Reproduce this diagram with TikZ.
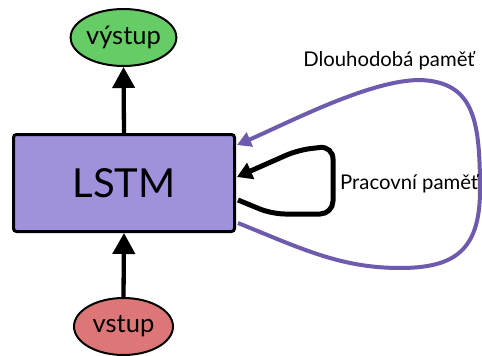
\documentclass[tikz,border=0pt]{standalone}
\usepackage{fontspec}
\setmainfont{Lato}
\usetikzlibrary{arrows.meta,calc,shapes.geometric}
\definecolor{okgreen}{HTML}{66CC66}
\definecolor{okpink}{HTML}{DD7777}
\definecolor{lstmfill}{HTML}{A191DD}
\definecolor{memline}{HTML}{6F5BAE}
\tikzset{
  io/.style={ellipse,draw=black,line width=2pt,minimum width=99pt,minimum height=57pt,inner sep=0pt,font=\fontsize{25.5}{30}\selectfont},
  cell/.style={rectangle,draw=black,fill=lstmfill,line width=3pt,rounded corners=3pt,minimum width=221pt,minimum height=97pt,font=\fontsize{40}{46}\selectfont},
  flow/.style={line width=4.3pt,-{Triangle[width=22pt,length=21pt]}},
  lbl/.style={inner sep=0pt,font=\fontsize{20.3}{24}\selectfont},
}
\begin{document}
\begin{tikzpicture}[x=1pt,y=-1pt]
\useasboundingbox (0,0) rectangle (482,356);
\node[cell] (lstm) at (124,183) {LSTM};
\node[io,fill=okgreen] (out) at (123.5,37.5) {výstup};
\node[io,fill=okpink] (in) at (123.5,326.5) {vstup};
\draw[flow] (lstm.north) -- (out.south);
\draw[flow] (in.north) -- (lstm.south);
% working memory loop
\coordinate (w1) at ($(lstm.east)+(2,17)$);
\coordinate (w2) at ($(lstm.east)+(1,-6)$);
\draw[line width=5pt,rounded corners=13pt,-{Triangle[width=17pt,length=15pt]}]
  (w1) -- (272,214) -- (333,214) -- (333,146) -- (298,150) -- (w2);
% long term memory loop
\coordinate (l1) at ($(lstm.east)+(2,40)$);
\coordinate (l2) at ($(lstm.east)+(1,-38)$);
\draw[memline,line width=4pt,-{Triangle[width=15pt,length=14pt]}]
  (l1) .. controls (300,248) and (340,268) .. (400,268)
  .. controls (455,268) and (480,250) .. (480,190)
  .. controls (480,120) and (474,82) .. (420,80)
  .. controls (370,80) and (290,122) .. (l2);
\node[lbl] (dl) at (389,61) {Dlouhodobá paměť};
\node[lbl,anchor=west] (pr) at (340,184) {Pracovní paměť};
\end{tikzpicture}
\end{document}
